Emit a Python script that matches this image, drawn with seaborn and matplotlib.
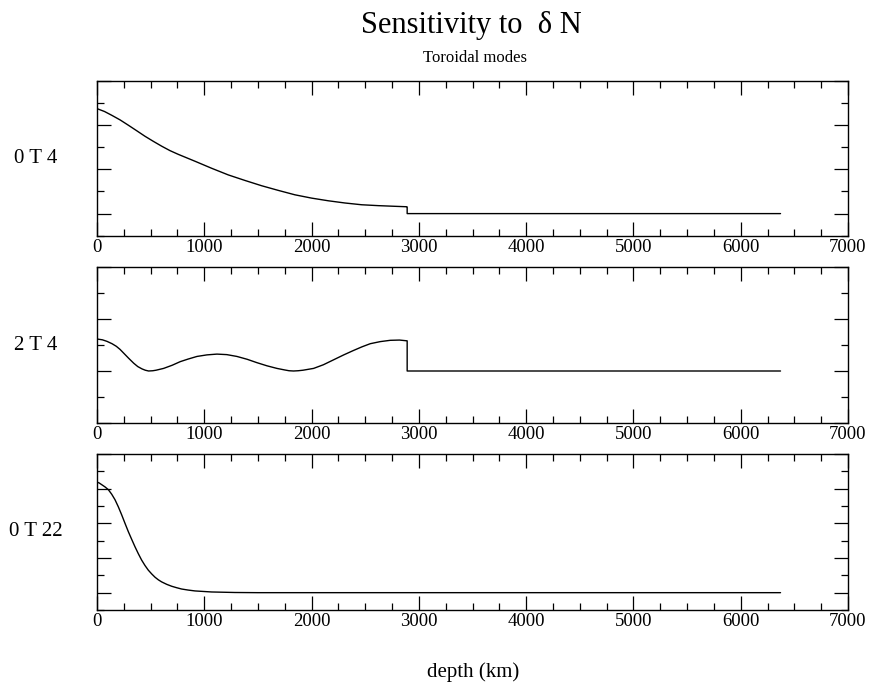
import matplotlib
matplotlib.use("Agg")
import matplotlib.pyplot as plt
from matplotlib.ticker import MultipleLocator
import seaborn as sns
import pandas as pd

# ---- data ----
xticks = [0, 1000, 2000, 3000, 4000, 5000, 6000, 7000]
labels = ["0 T 4", "2 T 4", "0 T 22"]

depth_0T4 = [0, 70, 137, 215, 292, 370, 447, 525, 603, 680, 758, 913, 1069, 1224, 1379,
             1535, 1690, 1845, 2001, 2156, 2311, 2467, 2622, 2777, 2886, 2891, 2891, 6371]
sens_0T4 = [4.75, 4.62, 4.45, 4.24, 4.00, 3.75, 3.50, 3.27, 3.05, 2.85, 2.68, 2.37, 2.05,
            1.75, 1.50, 1.26, 1.05, 0.85, 0.70, 0.58, 0.48, 0.40, 0.36, 0.33, 0.31, 0.30,
            0.0, 0.0]

depth_2T4 = [0, 50, 93, 140, 180, 215, 248, 295, 342, 380, 420, 450, 481, 520, 550, 621,
             700, 776, 850, 932, 1025, 1118, 1210, 1304, 1400, 1491, 1584, 1677, 1750,
             1790, 1832, 1875, 1920, 2019, 2110, 2205, 2300, 2391, 2470, 2547, 2640,
             2733, 2820, 2891, 2891, 6371]
sens_2T4 = [1.23, 1.20, 1.14, 1.05, 0.95, 0.83, 0.69, 0.49, 0.30, 0.17, 0.08, 0.03, 0.0,
            0.01, 0.03, 0.10, 0.22, 0.36, 0.46, 0.56, 0.62, 0.65, 0.63, 0.56, 0.45, 0.32,
            0.20, 0.10, 0.04, 0.01, 0.0, 0.01, 0.03, 0.10, 0.24, 0.43, 0.62, 0.79, 0.93,
            1.05, 1.13, 1.18, 1.19, 1.16, 0.0, 0.0]

depth_0T22 = [0, 20, 44, 75, 106, 137, 168, 199, 230, 261, 292, 323, 354, 385, 416, 447,
              478, 510, 541, 572, 603, 650, 696, 740, 789, 850, 913, 1069, 1286, 1500,
              2891, 6371]
sens_0T22 = [6.38, 6.33, 6.23, 6.10, 5.94, 5.68, 5.36, 4.95, 4.49, 4.00, 3.52, 3.08, 2.65,
             2.25, 1.88, 1.57, 1.30, 1.08, 0.89, 0.74, 0.62, 0.48, 0.37, 0.29, 0.21, 0.15,
             0.10, 0.04, 0.01, 0.0, 0.0, 0.0]

series = [(depth_0T4, sens_0T4), (depth_2T4, sens_2T4), (depth_0T22, sens_0T22)]
ylims = [(-1, 6), (-2, 4), (-1, 8)]

# ---- style ----
sns.set_style("ticks")
plt.rcParams["font.family"] = ["Liberation Serif", "DejaVu Serif"]
plt.rcParams["text.color"] = "black"
plt.rcParams["axes.labelcolor"] = "black"
plt.rcParams["xtick.color"] = "black"
plt.rcParams["ytick.color"] = "black"
plt.rcParams["axes.edgecolor"] = "black"

fig = plt.figure(figsize=(8.74, 6.84), dpi=100)
W, H = 874.0, 684.0
left, right = 97 / W, 848 / W
frames = [(81, 235.7), (267, 423), (454, 610)]

for (top_px, bot_px), (d, v), lab, yl in zip(frames, series, labels, ylims):
    ax = fig.add_axes([left, 1 - bot_px / H, right - left, (bot_px - top_px) / H])
    df = pd.DataFrame({"depth": d, "value": v})
    sns.lineplot(data=df, x="depth", y="value", ax=ax, color="black", lw=1.0,
                 estimator=None, sort=False)
    ax.set_xlim(0, 7000)
    ax.set_ylim(*yl)
    ax.set_xticks(xticks)
    ax.set_xticklabels([str(t) for t in xticks])
    ax.xaxis.set_minor_locator(MultipleLocator(250))
    ax.yaxis.set_major_locator(MultipleLocator(2))
    ax.yaxis.set_minor_locator(MultipleLocator(1))
    ax.tick_params(which="both", direction="in", top=True, right=True,
                   labelleft=False, width=0.9, colors="black")
    ax.tick_params(which="major", length=10, pad=2.5, labelsize=13.5)
    ax.tick_params(which="minor", length=5)
    for s in ax.spines.values():
        s.set_linewidth(1.0)
        s.set_color("black")
    ax.set_xlabel("")
    ax.set_ylabel(lab, rotation=0, fontsize=15, ha="center", va="center",
                  color="black")
    ax.yaxis.set_label_coords(-0.081, 0.5)

fig.text(471.5 / W, 1 - 33.3 / H, "Sensitivity to  δ N", ha="center",
         va="baseline", fontsize=22, color="black")
fig.text(475 / W, 1 - 62 / H, "Toroidal modes", ha="center", va="baseline",
         fontsize=12, color="black")
fig.text(473.5 / W, 1 - 676.7 / H, "depth (km)", ha="center", va="baseline",
         fontsize=15, color="black")

fig.savefig("out.png", dpi=100, facecolor="white")
